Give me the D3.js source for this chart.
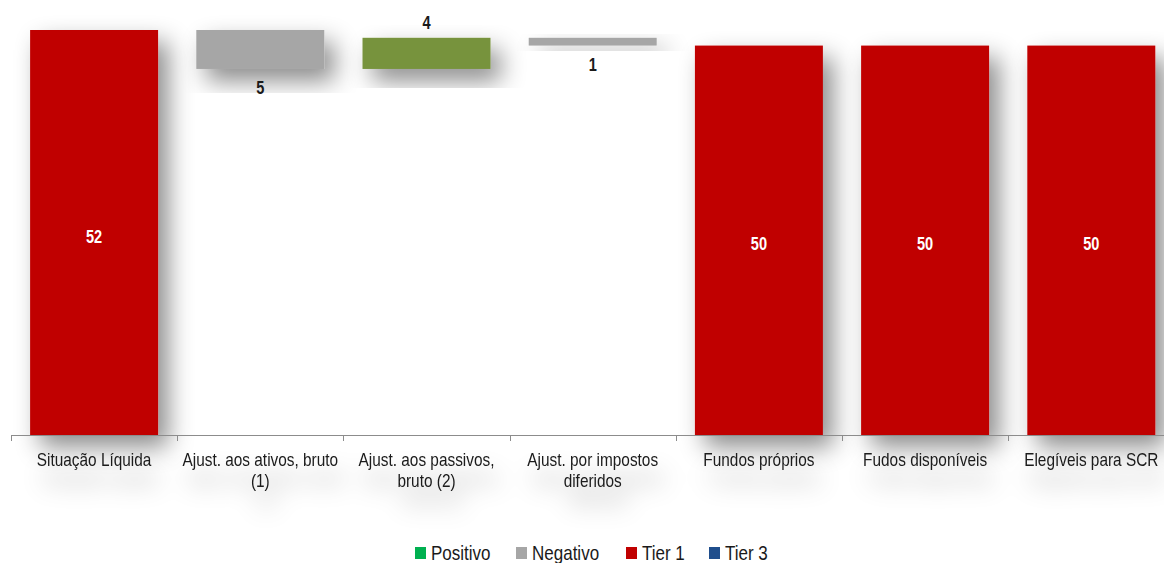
<!DOCTYPE html>
<html>
<head>
<meta charset="utf-8">
<script src="https://cdn.jsdelivr.net/npm/d3@7/dist/d3.min.js"></script>
<style>
  html, body { margin: 0; padding: 0; background: #fff; }
  svg { display: block; }
  text { font-family: "Liberation Sans", Arial, sans-serif; }
</style>
</head>
<body>
<svg id="chart" width="1164" height="563"></svg>
<script>
// Waterfall: own funds bridge (values in millions)
const categories = [
  "Situação Líquida",
  "Ajust. aos ativos, bruto\n(1)",
  "Ajust. aos passivos,\nbruto (2)",
  "Ajust. por impostos\ndiferidos",
  "Fundos próprios",
  "Fudos disponíveis",
  "Elegíveis para SCR"
];
// kind: total bars start at zero, step bars float from the running total
const kinds = ["total", "step", "step", "step", "total", "total", "total"];
const values = [52, -5, 4, -1, 50, 50, 50];

const legendLabels = ["Positivo", "Negativo", "Tier 1", "Tier 3"];
const legendColors = ["#00B050", "#A6A6A6", "#C00000", "#1F4E8C"];

const colorTotal = "#C00000";
const colorNeg = "#A6A6A6";
const colorPos = "#77933C";

// horizontal squeeze giving a narrow typeface look
const NARROW = 0.81;
const NARROW_CAT = 0.855;

const svg = d3.select("#chart");

// shadow filters
const defs = svg.append("defs");
const sh = defs.append("filter").attr("id", "barShadow")
  .attr("x", "-40%").attr("y", "-40%").attr("width", "200%").attr("height", "200%");
sh.append("feDropShadow").attr("dx", 10).attr("dy", 12).attr("stdDeviation", 12)
  .attr("flood-color", "#000").attr("flood-opacity", 0.45);
const tsh = defs.append("filter").attr("id", "textShadow")
  .attr("x", "-30%").attr("y", "-80%").attr("width", "160%").attr("height", "400%");
tsh.append("feDropShadow").attr("dx", 6).attr("dy", 18).attr("stdDeviation", 12)
  .attr("flood-color", "#000").attr("flood-opacity", 0.4);

// build the waterfall segments
let running = 0;
const bars = categories.map((c, i) => {
  const v = values[i];
  let y0, y1, color;
  if (kinds[i] === "total") {
    y0 = 0; y1 = v; running = v; color = colorTotal;
  } else {
    y0 = running; y1 = running + v; running = y1;
    color = v < 0 ? colorNeg : colorPos;
  }
  return { cat: c, v, kind: kinds[i], lo: Math.min(y0, y1), hi: Math.max(y0, y1), color };
});

const x0 = 11, step = 166.2;
const x = d3.scaleBand()
  .domain(categories)
  .range([x0, x0 + step * categories.length])
  .paddingInner(0.23)
  .paddingOuter(0.115);

const y = d3.scaleLinear().domain([0, 52]).range([435, 30]);

// bars
svg.append("g").selectAll("rect")
  .data(bars)
  .join("rect")
  .attr("x", d => x(d.cat))
  .attr("width", x.bandwidth())
  .attr("y", d => y(d.hi))
  .attr("height", d => Math.max(1, y(d.lo) - y(d.hi)))
  .attr("fill", d => d.color)
  .attr("filter", "url(#barShadow)");

// value labels
function labelY(d) {
  if (d.kind === "total") return (y(d.lo) + y(d.hi)) / 2 + 10;
  if (d.v < 0) return y(d.lo) + 25;
  return y(d.hi) - 9;
}
svg.append("g")
  .attr("font-weight", "bold")
  .attr("font-size", 18)
  .attr("text-anchor", "middle")
  .selectAll("g")
  .data(bars)
  .join("g")
  .attr("transform", d => `translate(${x(d.cat) + x.bandwidth() / 2},${labelY(d)}) scale(${NARROW},1)`)
  .append("text")
  .attr("fill", d => d.kind === "total" ? "#fff" : "#1a1a1a")
  .text(d => d3.format("d")(Math.abs(d.v)));

// category axis
const axisY = 435;
const gAxis = svg.append("g");
gAxis.append("line")
  .attr("x1", x0).attr("x2", x0 + step * categories.length)
  .attr("y1", axisY + 0.5).attr("y2", axisY + 0.5)
  .attr("stroke", "#8c8c8c").attr("stroke-width", 1);
const boundaries = d3.range(categories.length + 1).map(i => x0 + i * x.step());
gAxis.selectAll("line.tick")
  .data(boundaries)
  .join("line")
  .attr("class", "tick")
  .attr("x1", d => Math.round(d) + 0.5).attr("x2", d => Math.round(d) + 0.5)
  .attr("y1", axisY).attr("y2", axisY + 6)
  .attr("stroke", "#8c8c8c");

// category labels, one text per line
const gCat = svg.append("g")
  .attr("font-size", 18)
  .attr("fill", "#1a1a1a")
  .attr("text-anchor", "middle")
  .attr("filter", "url(#textShadow)");
const catLines = categories.flatMap(c => c.split("\n").map((line, k) => ({ c, line, k })));
gCat.selectAll("g")
  .data(catLines)
  .join("g")
  .attr("transform", d => `translate(${x(d.c) + x.bandwidth() / 2},${466 + d.k * 21}) scale(${NARROW_CAT},1)`)
  .append("text")
  .text(d => d.line);

// legend
const gLeg = svg.append("g").attr("font-size", 21).attr("fill", "#1a1a1a");
const legX = [415, 516, 626, 709];
legendLabels.forEach((lab, i) => {
  const g = gLeg.append("g").attr("transform", `translate(${legX[i]},553)`);
  g.append("rect").attr("x", 0).attr("y", -6).attr("width", 11).attr("height", 12)
    .attr("fill", legendColors[i]);
  g.append("g").attr("transform", `translate(16,7) scale(${NARROW},1)`)
    .append("text").text(lab);
});
</script>
</body>
</html>
